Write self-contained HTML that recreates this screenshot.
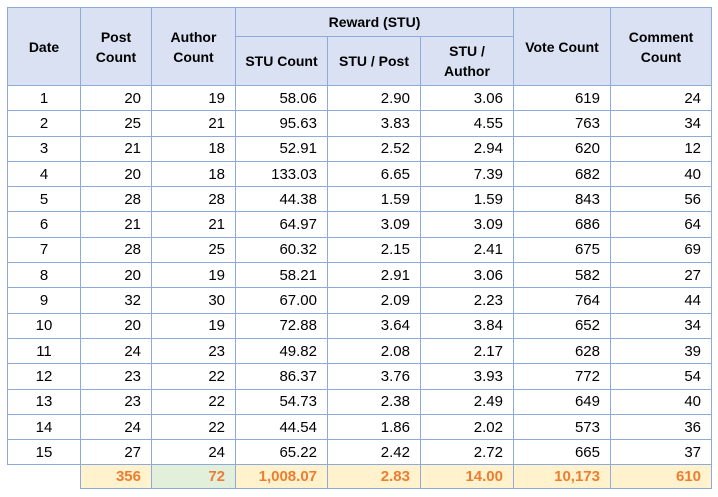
<!DOCTYPE html>
<html><head><meta charset="utf-8"><style>
body{margin:0;background:#fff;width:718px;height:497px;overflow:hidden;font-family:"Liberation Sans",Arial,sans-serif;}
table{position:absolute;left:7px;top:7px;border-collapse:collapse;table-layout:fixed;}
td,th{border:1px solid #8eaadb;padding:0 6px;font-size:15px;color:#000;white-space:nowrap;overflow:hidden;}
th{background:#d9e1f2;font-weight:bold;font-size:14px;text-align:center;line-height:20px;}
tbody td{height:24.3px;text-align:right;padding:0 10px 0 0;}
tbody td:first-child{text-align:center;padding:0;}
tfoot td{height:23px;text-align:right;padding:0 10px 0 0;background:#fff2cc;color:#ed7d31;font-weight:bold;}
tfoot td.g{background:#e2efda;}
tfoot td.e{background:#fff;border:none;}
</style></head><body>
<table>
<colgroup><col style="width:73px"><col style="width:71px"><col style="width:84px"><col style="width:92px"><col style="width:93px"><col style="width:93px"><col style="width:97px"><col style="width:101px"></colgroup>
<thead>
<tr style="height:29px">
<th rowspan="2">Date</th>
<th rowspan="2">Post<br>Count</th>
<th rowspan="2">Author<br>Count</th>
<th colspan="3">Reward (STU)</th>
<th rowspan="2">Vote Count</th>
<th rowspan="2">Comment<br>Count</th>
</tr>
<tr style="height:49px">
<th>STU Count</th>
<th>STU / Post</th>
<th>STU /<br>Author</th>
</tr>
</thead>
<tbody id="tb"></tbody>
<tfoot><tr>
<td class="e"></td>
<td>356</td>
<td class="g">72</td>
<td>1,008.07</td>
<td>2.83</td>
<td>14.00</td>
<td>10,173</td>
<td>610</td>
</tr></tfoot>
</table>
<script>
const dates=[1,2,3,4,5,6,7,8,9,10,11,12,13,14,15];
const postCount=[20,25,21,20,28,21,28,20,32,20,24,23,23,24,27];
const authorCount=[19,21,18,18,28,21,25,19,30,19,23,22,22,22,24];
const stuCount=["58.06","95.63","52.91","133.03","44.38","64.97","60.32","58.21","67.00","72.88","49.82","86.37","54.73","44.54","65.22"];
const stuPost=["2.90","3.83","2.52","6.65","1.59","3.09","2.15","2.91","2.09","3.64","2.08","3.76","2.38","1.86","2.42"];
const stuAuthor=["3.06","4.55","2.94","7.39","1.59","3.09","2.41","3.06","2.23","3.84","2.17","3.93","2.49","2.02","2.72"];
const voteCount=[619,763,620,682,843,686,675,582,764,652,628,772,649,573,665];
const commentCount=[24,34,12,40,56,64,69,27,44,34,39,54,40,36,37];
const names=['date-cell','post-count-cell','author-count-cell','stu-count-cell','stu-per-post-cell','stu-per-author-cell','vote-count-cell','comment-count-cell'];
const tb=document.getElementById('tb');
dates.forEach((d,i)=>{
  const tr=document.createElement('tr');
  
  
  [d,postCount[i],authorCount[i],stuCount[i],stuPost[i],stuAuthor[i],voteCount[i],commentCount[i]].forEach((v,j)=>{
    const td=document.createElement('td');
    td.textContent=v;
    
    
    tr.appendChild(td);
  });
  tb.appendChild(tr);
});
</script>
</body></html>
